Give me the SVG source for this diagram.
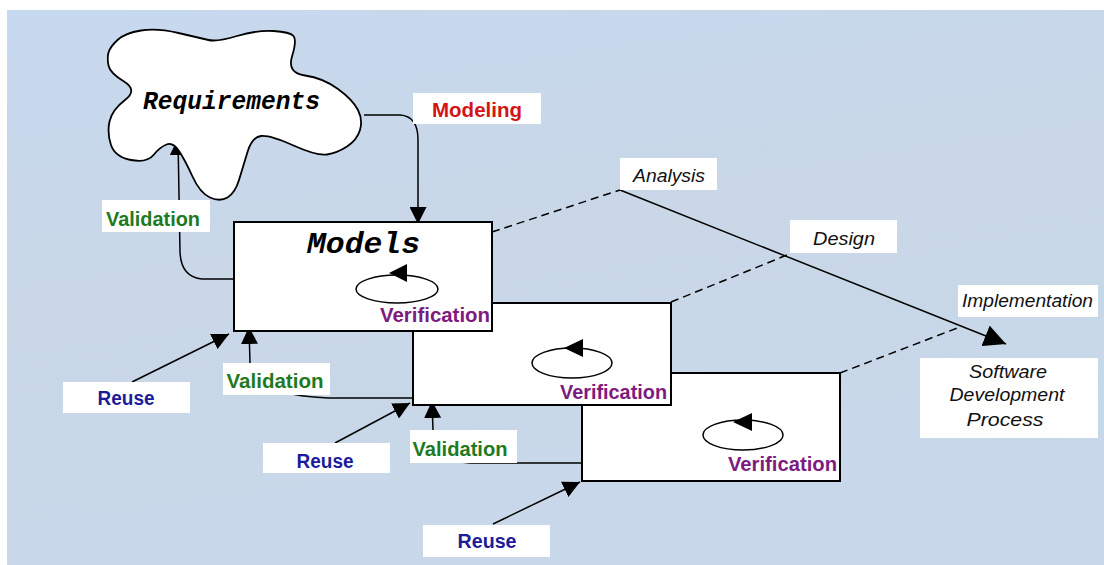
<svg xmlns="http://www.w3.org/2000/svg" width="1104" height="565" viewBox="0 0 1104 565">
<defs>
<linearGradient id="bg" x1="0" y1="0" x2="0.3" y2="1">
<stop offset="0" stop-color="#c7d9ef"/>
<stop offset="0.5" stop-color="#c9d7e7"/>
<stop offset="1" stop-color="#c8d8ea"/>
</linearGradient>
<marker id="arr" viewBox="0 0 10 10" refX="10" refY="5" markerWidth="17" markerHeight="17" markerUnits="userSpaceOnUse" orient="auto">
<path d="M0,0 L10,5 L0,10 z" fill="#000"/>
</marker>
<marker id="arrBig" viewBox="0 0 10 10" refX="10" refY="5" markerWidth="22" markerHeight="22" markerUnits="userSpaceOnUse" orient="auto">
<path d="M0,0 L10,5 L0,10 z" fill="#000"/>
</marker>
</defs>
<style>
.box{fill:#fff;stroke:#000;stroke-width:2}
.lbl{fill:#fff;stroke:none}
.ell{fill:none;stroke:#000;stroke-width:1.5}
.con{fill:none;stroke:#000;stroke-width:1.5}
.dash{fill:none;stroke:#000;stroke-width:1.5;stroke-dasharray:8 5}
.bold{font-family:"Liberation Sans",Arial,sans-serif;font-weight:bold;font-size:20px}
.ital{font-family:"Liberation Sans",Arial,sans-serif;font-style:italic;font-size:18px;fill:#111}
.mono{font-family:"Liberation Mono","Courier New",monospace;font-weight:bold;font-style:italic;fill:#000}
.red{fill:#d41414}
.green{fill:#1f7a1f}
.blue{fill:#1c1c9a}
.purple{fill:#7e1a80}
</style>
<rect x="0" y="0" width="1104" height="565" fill="#fff"/>
<rect x="7" y="10" width="1097" height="555" fill="url(#bg)"/>

<g id="connectors">
<path class="con" d="M 364 115 L 400 115 Q 418 116 418 140 L 418 224" marker-end="url(#arr)"/>
<path class="con" d="M 234 279 L 202 279 Q 181 277 180 252 L 178 138" marker-end="url(#arr)"/>
<path class="con" d="M 413 398 L 328 398 Q 252 395 250 363 L 249 327" marker-end="url(#arr)"/>
<path class="con" d="M 582 463 L 470 463 Q 433 460 433 430 L 432 401" marker-end="url(#arr)"/>
<path class="con" d="M 132 382 L 229 334" marker-end="url(#arr)"/>
<path class="con" d="M 335 443 L 410 403" marker-end="url(#arr)"/>
<path class="con" d="M 493 524 L 580 482" marker-end="url(#arr)"/>
<path class="dash" d="M 492 232 L 620 190"/>
<path class="dash" d="M 671 302 L 787 255"/>
<path class="dash" d="M 840 373 L 960 327"/>
<path class="con" d="M 620 190 L 1006 344" marker-end="url(#arrBig)"/>
</g>

<g id="requirements">
<path d="M 117.5 40 Q 125 33 141 30.5 Q 157 28 178.5 33 Q 200 38 208.5 40 Q 217 42 237 36 Q 257 30 273.5 31 Q 290 32 293.5 36 Q 297 40 292 56.5 Q 287 73 305 75.5 Q 323 78 338 89 Q 353 100 358 110 Q 363 120 360 130 Q 357 140 347 146.5 Q 337 153 327 154.5 Q 317 156 293.5 145.5 Q 270 135 261 136 Q 252 137 247.5 152 Q 243 167 239 180 Q 235 193 227.5 197.5 Q 220 202 210 197.5 Q 200 193 192.5 176.5 Q 185 160 179 151 Q 173 142 166.5 144.5 Q 160 147 153.5 155 Q 147 163 131 160 Q 115 157 111 145 Q 107 133 109.5 121.5 Q 112 110 125 100 Q 138 90 124 81.5 Q 110 73 108.5 65.5 Q 107 58 108.5 52.5 Q 110 47 117.5 40 Z" fill="#fff" stroke="#000" stroke-width="1.8"/>
<text class="mono" x="143" y="109" font-size="26" textLength="177" lengthAdjust="spacingAndGlyphs">Requirements</text>
</g>

<g id="model3">
<rect class="box" x="582" y="373" width="258" height="108"/>
<ellipse class="ell" cx="743" cy="435" rx="40" ry="15"/>
<polygon points="733,422 752,413 752,431" fill="#000"/>
<text class="bold purple" x="728" y="471" textLength="109" lengthAdjust="spacingAndGlyphs">Verification</text>
</g>

<g id="model2">
<rect class="box" x="413" y="303" width="258" height="102"/>
<ellipse class="ell" cx="572" cy="363" rx="40" ry="15"/>
<polygon points="564,348 583,339 583,357" fill="#000"/>
<text class="bold purple" x="560" y="399" textLength="107" lengthAdjust="spacingAndGlyphs">Verification</text>
</g>

<g id="models">
<rect class="box" x="234" y="222" width="258" height="109"/>
<text class="mono" x="307" y="253" font-size="30" textLength="113" lengthAdjust="spacingAndGlyphs">Models</text>
<ellipse class="ell" cx="397" cy="289" rx="41" ry="14"/>
<polygon points="389,273 407,264 407,282" fill="#000"/>
<text class="bold purple" x="380" y="322" textLength="110" lengthAdjust="spacingAndGlyphs">Verification</text>
</g>

<g id="modeling">
<rect class="lbl" x="413" y="93" width="128" height="31"/>
<text class="bold red" x="477" y="117" text-anchor="middle" textLength="90" lengthAdjust="spacingAndGlyphs">Modeling</text>
</g>

<g id="validation1">
<rect class="lbl" x="102" y="200" width="108" height="32"/>
<text class="bold green" x="153" y="226" text-anchor="middle" textLength="94" lengthAdjust="spacingAndGlyphs">Validation</text>
</g>

<g id="validation2">
<rect class="lbl" x="223" y="363" width="107" height="32"/>
<text class="bold green" x="275" y="388" text-anchor="middle" textLength="97" lengthAdjust="spacingAndGlyphs">Validation</text>
</g>

<g id="validation3">
<rect class="lbl" x="410" y="430" width="107" height="33"/>
<text class="bold green" x="460" y="456" text-anchor="middle" textLength="95" lengthAdjust="spacingAndGlyphs">Validation</text>
</g>

<g id="reuse1">
<rect class="lbl" x="63" y="382" width="127" height="31"/>
<text class="bold blue" x="126" y="405" text-anchor="middle" textLength="57" lengthAdjust="spacingAndGlyphs">Reuse</text>
</g>

<g id="reuse2">
<rect class="lbl" x="263" y="443" width="127" height="30"/>
<text class="bold blue" x="325" y="468" text-anchor="middle" textLength="57" lengthAdjust="spacingAndGlyphs">Reuse</text>
</g>

<g id="reuse3">
<rect class="lbl" x="423" y="525" width="127" height="32"/>
<text class="bold blue" x="487" y="548" text-anchor="middle" textLength="59" lengthAdjust="spacingAndGlyphs">Reuse</text>
</g>

<g id="analysis">
<rect class="lbl" x="620" y="158" width="97" height="32"/>
<text class="ital" x="633" y="182" textLength="72" lengthAdjust="spacingAndGlyphs">Analysis</text>
</g>

<g id="design">
<rect class="lbl" x="790" y="220" width="107" height="33"/>
<text class="ital" x="813" y="245" textLength="62" lengthAdjust="spacingAndGlyphs">Design</text>
</g>

<g id="implementation">
<rect class="lbl" x="958" y="285" width="140" height="32"/>
<text class="ital" x="962" y="307" textLength="131" lengthAdjust="spacingAndGlyphs">Implementation</text>
</g>

<g id="sdp">
<rect class="lbl" x="920" y="358" width="178" height="80"/>
<text class="ital" x="1008" y="378" text-anchor="middle" textLength="78" lengthAdjust="spacingAndGlyphs">Software</text>
<text class="ital" x="1007" y="401" text-anchor="middle" textLength="115" lengthAdjust="spacingAndGlyphs">Development</text>
<text class="ital" x="1005" y="426" text-anchor="middle" textLength="77" lengthAdjust="spacingAndGlyphs">Process</text>
</g>
</svg>
